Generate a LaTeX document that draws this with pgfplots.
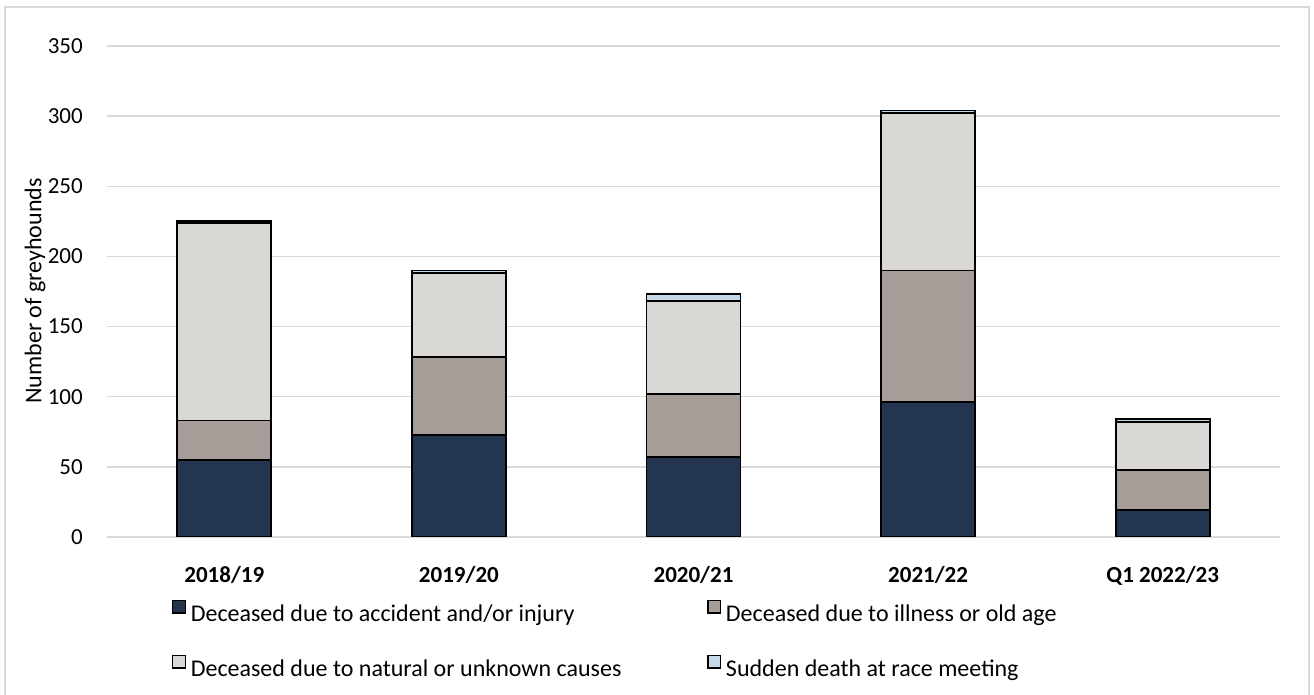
\documentclass[border=0pt]{standalone}
\usepackage{pgfplots}
\pgfplotsset{compat=1.18}
\usepackage{pgfplotstable}
\usepackage{fontspec}
\setmainfont{Carlito}

\definecolor{accident}{HTML}{243550}
\definecolor{illness}{HTML}{A69C98}
\definecolor{natural}{HTML}{D9D8D4}
\definecolor{sudden}{HTML}{C5D9E8}
\definecolor{gridgrey}{HTML}{D9D9D9}

% deaths per year, stacked: accident, illness, natural, sudden death at meeting
\pgfplotstableread{
x acc ill nat sud
0 55 28 141 1
1 73 55 60 2
2 57 45 66 5
3 96 94 112 2
4 19 29 34 2
}\deaths

\newcommand{\fs}{\fontsize{17.25}{20}\selectfont}
\newcommand{\fl}{\fontsize{18}{21}\selectfont}
\newcommand{\ent}[1]{\rule[-6pt]{0pt}{21pt}\hspace{3.5pt}#1}

\begin{document}
\begin{tikzpicture}
\clip (0pt,0pt) rectangle (985.5pt,521.25pt);
\draw[gridgrey, line width=1.1pt] (3.75pt,-15pt) rectangle (981.75pt,516pt);
\node[rotate=90, font=\fl] at (26.25pt,303pt) {Number of greyhounds};
\begin{axis}[
    at={(80.25pt,118.5pt)}, anchor=south west,
    scale only axis,
    width=879.75pt, height=368.25pt,
    xmin=-0.5, xmax=4.5,
    ymin=0, ymax=350,
    ytick={0,50,...,350},
    xtick={0,1,2,3,4},
    xticklabels={2018/19,2019/20,2020/21,2021/22,Q1 2022/23},
    ybar stacked, bar width=70.5pt,
    axis line style={draw=none},
    major tick length=0pt,
    ymajorgrids,
    grid style={gridgrey, line width=1.1pt},
    /pgf/number format/assume math mode=true,
    ticklabel style={font=\fs},
    xticklabel style={font=\bfseries\fs, anchor=base, inner sep=0pt, yshift=-34pt},
    yticklabel style={anchor=east, inner sep=0pt, xshift=-18pt},
    legend columns=2,
    legend cell align=left,
    legend style={draw=none, fill=none, inner sep=0pt, column sep=0pt,
        row sep=23.5pt, font=\fl, nodes={inner sep=0pt},
        at={(0.0554,-0.1273)}, anchor=north west},
    legend image code/.code={\draw[#1, line width=0.9pt] (0pt,-0.5pt) rectangle (9.5pt,9pt);},
]
\addplot[fill=accident, draw=black, line width=1.4pt] table[x=x, y=acc] {\deaths};
\addlegendentry{\makebox[391pt][l]{\ent{Deceased due to accident and/or injury}}}
\addplot[fill=illness, draw=black, line width=1.4pt] table[x=x, y=ill] {\deaths};
\addlegendentry{\ent{Deceased due to illness or old age}}
\addplot[fill=natural, draw=black, line width=1.4pt] table[x=x, y=nat] {\deaths};
\addlegendentry{\makebox[391pt][l]{\ent{Deceased due to natural or unknown causes}}}
\addplot[fill=sudden, draw=black, line width=1.4pt] table[x=x, y=sud] {\deaths};
\addlegendentry{\ent{Sudden death at race meeting}}
\end{axis}
\end{tikzpicture}
\end{document}
